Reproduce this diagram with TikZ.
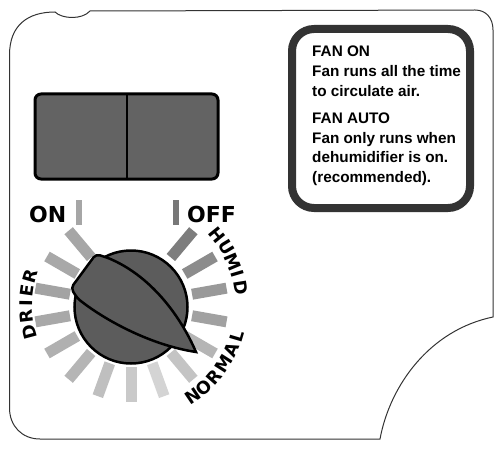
\documentclass[tikz,border=0pt]{standalone}
\usepackage{fontspec}
\newfontfamily\dialfont{DejaVu Sans}
\newfontfamily\boxfont{Liberation Sans}
\begin{document}
\begin{tikzpicture}[x=1pt,y=1pt,
  panel/.style={draw=black!80, line width=1pt},
  dialbar/.style={line width=11pt},
  tick/.style={line width=6.5pt},
  knob/.style={draw=black, line width=2.5pt, fill=black!64},
  dialletter/.style={inner sep=0pt, font=\dialfont\bfseries\fontsize{17.5}{17.5}\selectfont},
  dialword/.style={inner sep=0pt, anchor=base west, font=\dialfont\bfseries\fontsize{22}{22}\selectfont},
  boxline/.style={anchor=base west, inner sep=0pt, font=\boxfont\bfseries\fontsize{15.3}{20}\selectfont}]
\useasboundingbox (0,0) rectangle (500,448);
% panel outline
\draw[panel] (9.5,40) -- (9.5,393) .. controls (9.5,423) and (28,436) .. (55,436)
  .. controls (62,429) and (82,428) .. (90,437) -- (475,438)
  .. controls (486,438) and (493,430) .. (493,418) -- (493,131)
  .. controls (430,118) and (390,63) .. (380,9) -- (40,9)
  .. controls (22,9) and (9.5,22) .. (9.5,40) -- cycle;
% switch
\draw[fill=black!61, line width=3pt, rounded corners=6pt] (35,354) rectangle (218,269);
\draw[line width=1.8pt] (127,354) -- (127,269);
% info box
\draw[draw=black!80, fill=white, line width=8pt, rounded corners=22pt] (292,419) rectangle (470,240);
\foreach \txt/\yy [count=\i] in {FAN ON/391, Fan runs all the time/371, to circulate air./351,
    FAN AUTO/325, Fan only runs when/305, dehumidifier is on./286, {(recommended).}/266}
  \node[boxline] (info\i) at (312,\yy) {\txt};
% ticks
\draw[tick, black!35] (79,248) -- (79,223);
\draw[tick, black!53] (176,248) -- (176,223);
\node[dialword] (on) at (29,226) {ON};
\node[dialword] (off) at (187,226) {OFF};
\begin{scope}[shift={(131,143)}]
\foreach \a/\c in {130/35,150/34,170/36,190/34,210/31,230/29,250/25,270/21,
    290/17,310/23,330/29,350/37,370/40,390/45,410/51}
  \draw[dialbar, black!\c] (\a:62) -- (\a:97);
\foreach \l/\a [count=\i] in {H/39,U/31,M/23,I/16.5,D/9}
  \node[dialletter, rotate=\a-90] (humid\i) at (\a:111) {\l};
\foreach \l/\a [count=\i] in {N/-56,O/-48.5,R/-41,M/-32.5,A/-24,L/-16.5}
  \node[dialletter, rotate=\a+90] (normal\i) at (\a:110) {\l};
\foreach \l/\a [count=\i] in {D/195,R/186.5,I/179,E/172,R/164}
  \node[dialletter, rotate=\a-90] (drier\i) at (\a:105) {\l};
\end{scope}
% knob
\draw[knob] (131,141) circle (56.5);
\draw[knob] (108,190) [rounded corners=4pt] -- (96,194) -- (71,160) -- (77,150)
  [sharp corners] .. controls (105,128) and (150,103) .. (196,96)
  .. controls (180,133) and (150,173) .. (108,190) -- cycle;
\end{tikzpicture}
\end{document}
